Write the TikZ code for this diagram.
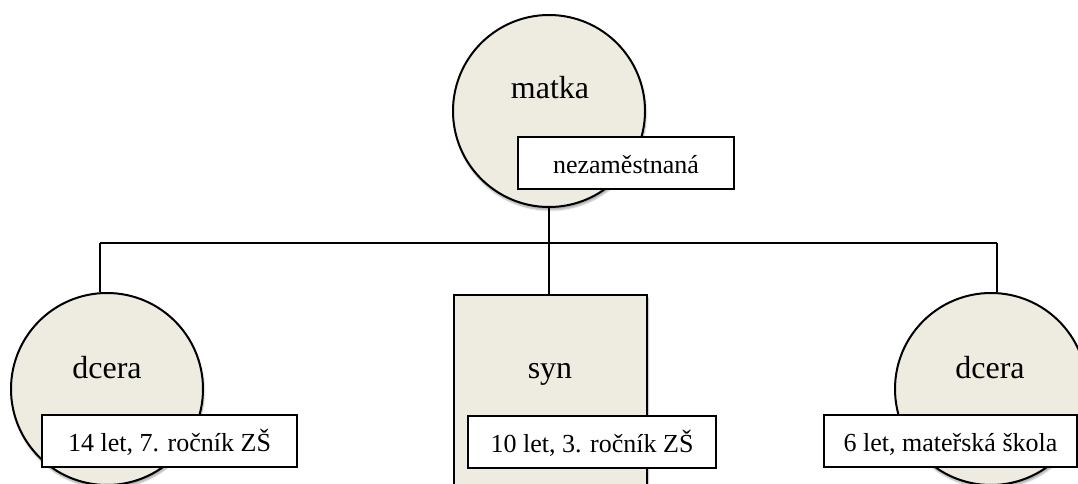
\documentclass[tikz,border=0pt]{standalone}
\usepackage{fontspec}
\setmainfont{Liberation Serif}
\usetikzlibrary{shadows.blur}
\definecolor{famfill}{HTML}{EEECE1}
\begin{document}
\begin{tikzpicture}[x=1pt,y=-1pt,
  softshadow/.style={blur shadow={shadow xshift=1pt, shadow yshift=-3pt,
      shadow blur steps=6, shadow opacity=35}},
  person/.style={circle, draw, line width=2pt, fill=famfill,
      minimum size=192pt, inner sep=0pt, softshadow},
  sonbox/.style={rectangle, draw, line width=2pt, fill=famfill,
      minimum width=193pt, minimum height=230pt, inner sep=0pt, softshadow},
  who/.style={font=\fontsize{32}{38}\selectfont, anchor=base, inner sep=0pt},
  info/.style={rectangle, draw, line width=1.4pt, fill=white,
      font=\fontsize{26}{31}\selectfont, minimum height=52pt,
      text height=21pt, text depth=0pt, inner sep=0pt},
  link/.style={line width=2.6pt}
]
\useasboundingbox (0,0) rectangle (1078,484);
\clip (0,0) rectangle (1078,484);

% family members
\node[person] (m) at (549,111) {};
\node[person] (d1) at (107,389) {};
\node[sonbox, anchor=north] (s) at (550.5,294) {};
\node[person] (d2) at (991,389) {};

% tree connectors
\coordinate (busL) at (100,243);
\coordinate (busR) at (997,243);
\draw[link] (busL) -- (busR);
\draw[link] (m.south) -- (m.south |- s.north);
\draw[link] (busL) -- (busL |- d1.north);
\draw[link] (busR) -- (busR |- d2.north);

% names
\node[who] (mt) at (550,99) {matka};
\node[who] (d1t) at (107,378) {dcera};
\node[who] (st) at (550,378) {syn};
\node[who] (d2t) at (990,378) {dcera};

% details
\node[info, minimum width=216pt] (mi) at (626,163) {nezaměstnaná};
\node[info, minimum width=255pt] (d1i) at (169.5,441) {14 let, 7. ročník ZŠ};
\node[info, minimum width=248pt] (si) at (592,442) {10 let, 3. ročník ZŠ};
\node[info, minimum width=253pt] (d2i) at (950.5,441) {6 let, mateřská škola};
\end{tikzpicture}
\end{document}
